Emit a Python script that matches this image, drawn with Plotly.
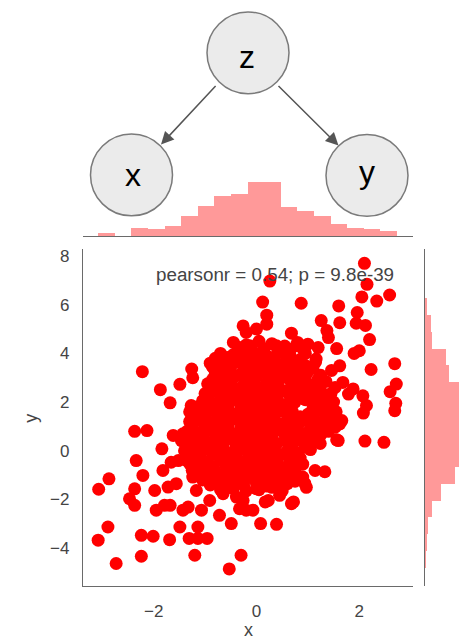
import plotly.graph_objects as go

W, H = 459, 639

# ---------------- data ----------------
# marginal histogram of x (bin start, bin size, counts)
x_hist_start = -3.08
x_hist_size = 0.323
x_hist_counts = [4, 0, 11, 9, 13, 27, 40, 54, 57, 73, 73, 39, 33, 27, 16, 11, 9, 7]

# marginal histogram of y (bottom to top)
y_hist_start = -4.83
y_hist_size = 0.694
y_hist_counts = [2, 3, 4, 10, 21, 40, 58, 72, 78, 72, 58, 33, 28, 10, 8, 3, 0, 0]

# scatter points: sparse points
outer_upper = [
    (-2.22, 3.25), (-1.87, 2.51), (-1.49, 2.73), (-1.68, 1.97), (-1.26, 3.36), (-1.24, 3.0),
    (-0.86, 3.47), (-0.57, 3.83), (-0.36, 4.1), (-0.26, 5.13), (-0.2, 4.86), (-0.13, 4.31),
    (-1.27, 1.86), (-0.84, 3.42),
    (0.26, 6.97), (2.1, 7.7), (2.15, 6.84), (2.05, 6.32), (2.34, 6.15), (2.59, 6.4),
    (0.12, 6.11), (0.87, 6.06), (1.6, 5.95), (1.62, 5.26), (1.96, 5.68), (1.94, 5.24),
    (2.12, 5.15), (2.2, 4.57), (0.2, 5.57), (0.2, 5.2), (0.68, 4.83), (1.26, 5.35),
    (1.37, 4.94), (1.56, 4.2), (1.9, 4.0), (2.0, 4.11), (2.69, 3.58), (2.23, 3.34),
    (2.72, 2.74), (2.6, 2.43), (2.71, 1.95), (1.0, 4.38), (0.0, 5.0), (0.39, 4.31),
    (0.77, 4.31), (1.16, 3.77), (1.62, 3.49), (1.68, 2.81), (1.88, 2.54), (2.07, 2.26),
    (2.14, 1.86), (1.4, 4.65), (1.46, 3.3), (1.53, 2.6), (1.79, 2.33), (1.2, 4.24),
    (2.08, 1.55), (2.69, 1.65), (1.66, 1.24), (1.53, 0.97), (1.62, 1.11),
]
outer_lower = [
    (2.11, 0.4), (2.48, 0.35), (1.56, 0.45), (1.24, 0.3), (1.03, 0.49), (1.59, 0.42),
    (1.33, -0.86), (0.97, -1.5), (0.9, -1.08), (0.72, -2.1), (0.39, -3.02), (0.08, -2.99),
    (-0.07, -2.44), (0.17, -2.1), (0.45, -1.83), (-0.3, -4.29), (-0.26, -2.04), (0.0, -1.56),
    (0.58, -0.67), (0.71, -0.53), (1.14, -0.81), (0.94, -1.34), (0.68, -2.17), (0.23, -2.04),
    (-2.37, 0.8), (-2.13, 0.83), (-1.84, 0.08), (-1.62, 0.63), (-1.43, 0.7), (-2.34, -0.4),
    (-2.87, -1.15), (-3.07, -1.58), (-2.21, -1.01), (-2.37, -1.56), (-2.47, -1.97),
    (-2.37, -2.24), (-1.98, -1.63), (-1.82, -0.81), (-1.66, -0.47), (-1.72, -1.49),
    (-1.56, -1.35), (-1.95, -2.44), (-1.79, -2.24), (-1.68, -2.24), (-1.43, -2.44),
    (-1.33, -2.31), (-1.07, -2.44), (-1.49, -3.13), (-1.14, -3.13), (-0.72, -2.65),
    (-0.49, -2.99), (-0.33, -2.38), (-2.24, -3.47), (-2.01, -3.51), (-1.69, -3.65),
    (-1.31, -3.6), (-1.14, -3.6), (-0.96, -3.6), (-2.89, -3.13), (-3.08, -3.67),
    (-2.73, -4.63), (-2.24, -4.33), (-1.2, -4.29), (-0.53, -4.85), (-1.3, -0.53),
    (-1.24, -1.08), (-1.17, -1.63), (-0.91, -2.04), (-0.65, -1.76), (-0.39, -1.9),
    (-0.2, -2.44), (-1.46, 0.42), (-1.52, -0.4), (-1.3, 0.83), (-1.17, 1.38),
]
# dense core (estimated; individual points are not resolvable in the picture)
core_points_a = [
    (-0.45, 4.45), (-0.2, 4.35), (0.05, 4.5), (0.3, 4.4), (0.55, 4.3), (0.8, 4.45),
    (-0.7, 4.0), (-0.45, 3.95), (-0.25, 4.1), (0.0, 4.0), (0.2, 3.9), (0.45, 4.05), (0.65, 3.95), (0.95, 4.0),
    (-0.9, 3.6), (-0.65, 3.55), (-0.4, 3.65), (-0.2, 3.5), (0.05, 3.6), (0.25, 3.7), (0.5, 3.55),
    (0.7, 3.6), (0.95, 3.5), (1.15, 3.65),
    (-0.8, 3.15), (-0.6, 3.25), (-0.35, 3.1), (-0.15, 3.2), (0.1, 3.25), (0.3, 3.1),
    (0.55, 3.2), (0.75, 3.15), (1.0, 3.25), (1.25, 3.1),
    (-0.95, 2.75), (-0.7, 2.85), (-0.5, 2.8), (-0.25, 2.7), (-0.05, 2.85), (0.2, 2.8),
    (0.4, 2.75), (0.65, 2.9), (0.85, 2.8), (1.1, 2.7), (1.35, 2.85),
    (-1.0, 2.35), (-0.8, 2.45), (-0.55, 2.4), (-0.35, 2.3), (-0.1, 2.45), (0.1, 2.4),
    (0.35, 2.35), (0.55, 2.45), (0.8, 2.4), (1.0, 2.3), (1.25, 2.45), (1.45, 2.35),
    (-1.05, 2.05), (-0.85, 1.95), (-0.6, 2.0), (-0.4, 2.1), (-0.15, 1.95), (0.05, 2.0),
    (0.3, 2.05), (0.5, 1.9), (0.75, 2.0), (0.95, 2.1), (1.2, 1.95), (1.5, 2.0),
    (-1.3, 1.6), (-1.1, 1.55), (-0.9, 1.65), (-0.65, 1.6), (-0.45, 1.5), (-0.2, 1.65), (0.0, 1.6),
    (0.25, 1.55), (0.45, 1.65), (0.7, 1.6), (1.0, 1.5), (1.25, 1.65), (1.55, 1.6),
    (-1.3, 1.2), (-1.1, 1.25), (-0.85, 1.15), (-0.65, 1.2), (-0.4, 1.3), (-0.2, 1.15), (0.05, 1.2),
    (0.25, 1.25), (0.5, 1.1), (0.7, 1.2), (0.95, 1.25), (1.2, 1.15), (1.45, 1.2),
    (-1.35, 0.8), (-1.15, 0.75), (-0.9, 0.85), (-0.7, 0.8), (-0.45, 0.7), (-0.25, 0.85), (0.0, 0.8),
    (0.2, 0.75), (0.45, 0.85), (0.65, 0.8), (0.9, 0.7), (1.15, 0.85), (1.4, 0.8),
    (-1.4, 0.4), (-1.2, 0.45), (-0.95, 0.35), (-0.75, 0.4), (-0.5, 0.5), (-0.3, 0.35), (-0.05, 0.4),
    (0.15, 0.45), (0.4, 0.3), (0.6, 0.4), (0.85, 0.45), (1.1, 0.35),
    (-1.4, 0.0), (-1.2, -0.05), (-1.0, 0.05), (-0.75, 0.0), (-0.55, -0.1), (-0.3, 0.05), (-0.1, 0.0),
    (0.15, -0.05), (0.35, 0.05), (0.6, 0.0), (0.8, -0.1), (1.05, 0.05),
    (-1.35, -0.4), (-1.15, -0.35), (-0.95, -0.45), (-0.7, -0.4), (-0.5, -0.3), (-0.25, -0.45),
    (-0.05, -0.4), (0.2, -0.35), (0.4, -0.45), (0.65, -0.4), (0.85, -0.3),
    (-1.25, -0.8), (-1.0, -0.75), (-0.8, -0.85), (-0.55, -0.8), (-0.35, -0.7), (-0.1, -0.85),
    (0.1, -0.8), (0.35, -0.75), (0.55, -0.85), (0.75, -0.8),
    (-1.05, -1.2), (-0.8, -1.15), (-0.6, -1.25), (-0.35, -1.2), (-0.15, -1.1), (0.1, -1.25),
    (0.3, -1.2), (0.5, -1.15), (0.75, -1.25),
    (-0.7, -1.6), (-0.45, -1.55), (-0.2, -1.65), (0.05, -1.6), (0.3, -1.5), (0.5, -1.65),
]
core_points_b = [
    (-0.35, 4.25), (-0.1, 4.15), (0.15, 4.2), (0.4, 4.25), (0.65, 4.15), (0.9, 4.2),
    (-0.8, 3.8), (-0.55, 3.75), (-0.3, 3.85), (-0.1, 3.8), (0.15, 3.75), (0.35, 3.85), (0.6, 3.8), (0.85, 3.75),
    (-0.7, 3.35), (-0.5, 3.45), (-0.25, 3.4), (-0.05, 3.35), (0.2, 3.45), (0.4, 3.4),
    (0.65, 3.35), (0.85, 3.45), (1.1, 3.4),
    (-0.85, 2.95), (-0.65, 3.05), (-0.45, 3.0), (-0.2, 2.95), (0.0, 3.05), (0.25, 3.0),
    (0.45, 2.95), (0.7, 3.05), (0.95, 3.0), (1.2, 2.95),
    (-0.9, 2.55), (-0.65, 2.65), (-0.45, 2.6), (-0.2, 2.55), (0.0, 2.65), (0.25, 2.6),
    (0.45, 2.55), (0.7, 2.65), (0.9, 2.6), (1.15, 2.55),
    (-0.95, 2.15), (-0.7, 2.25), (-0.5, 2.2), (-0.25, 2.15), (-0.05, 2.25), (0.2, 2.2),
    (0.4, 2.15), (0.65, 2.25), (0.85, 2.2), (1.1, 2.15), (1.35, 2.2),
    (-1.2, 1.8), (-1.0, 1.75), (-0.75, 1.85), (-0.55, 1.8), (-0.3, 1.75), (-0.1, 1.85), (0.15, 1.8),
    (0.35, 1.75), (0.6, 1.85), (1.1, 1.75), (1.4, 1.8),
    (-1.2, 1.4), (-1.0, 1.35), (-0.75, 1.45), (-0.55, 1.4), (-0.3, 1.35), (-0.1, 1.45), (0.15, 1.4),
    (0.35, 1.35), (0.6, 1.45), (0.85, 1.4), (1.1, 1.35), (1.35, 1.45),
    (-1.25, 1.0), (-1.0, 0.95), (-0.75, 1.05), (-0.55, 1.0), (-0.3, 0.95), (-0.1, 1.05), (0.15, 1.0),
    (0.35, 0.95), (0.6, 1.05), (0.8, 1.0), (1.05, 0.95), (1.3, 1.05),
    (-1.25, 0.6), (-1.05, 0.55), (-0.8, 0.65), (-0.6, 0.6), (-0.35, 0.55), (-0.15, 0.65), (0.1, 0.6),
    (0.3, 0.55), (0.55, 0.65), (0.75, 0.6), (1.0, 0.55), (1.25, 0.65),
    (-1.3, 0.2), (-1.1, 0.15), (-0.85, 0.25), (-0.65, 0.2), (-0.4, 0.15), (-0.2, 0.25), (0.05, 0.2),
    (0.25, 0.15), (0.7, 0.2), (0.95, 0.15),
    (-1.3, -0.2), (-1.1, -0.25), (-0.85, -0.15), (-0.6, -0.2), (-0.4, -0.25), (-0.15, -0.15),
    (0.05, -0.2), (0.3, -0.25), (0.5, -0.15), (0.75, -0.2),
    (-1.25, -0.6), (-1.05, -0.55), (-0.85, -0.65), (-0.6, -0.6), (-0.4, -0.55), (-0.2, -0.65),
    (0.0, -0.6), (0.25, -0.55), (0.45, -0.65), (0.7, -0.6), (0.9, -0.55),
    (-1.15, -1.0), (-0.9, -0.95), (-0.7, -1.05), (-0.45, -1.0), (-0.25, -0.95), (0.0, -1.05),
    (0.2, -1.0), (0.45, -0.95), (0.65, -1.05),
    (-0.9, -1.4), (-0.65, -1.35), (-0.45, -1.45), (-0.25, -1.4), (0.0, -1.35), (0.2, -1.45),
    (0.4, -1.4), (0.6, -1.35),
]

annotation_text = "pearsonr = 0.54; p = 9.8e-39"
x_ticks = [-2, 0, 2]
y_ticks = [-4, -2, 0, 2, 4, 6, 8]

# DAG nodes: label, centre (px), text centre (px)
dag_nodes = [("z", (248, 51), (247, 55)), ("x", (131.5, 173.5), (133, 174)), ("y", (367, 174), (367, 171))]
dag_edges = [((217, 83), (161, 143)), ((277, 83), (338.5, 144))]
node_r = 41

# ---------------- figure ----------------
FONT = "Liberation Sans, Arial, sans-serif"
TXT = "#444444"
LINE = "#6a6a6a"
HIST = "rgba(255,0,0,0.4)"

pts = outer_upper + outer_lower + core_points_a + core_points_b
sx = [p[0] for p in pts]
sy = [p[1] for p in pts]

fig = go.Figure()
fig.add_trace(go.Scatter(x=sx, y=sy, mode="markers",
                         marker=dict(color="red", size=13, line=dict(width=0)),
                         xaxis="x", yaxis="y", showlegend=False, hoverinfo="skip"))

xc = [x_hist_start + (i + 0.5) * x_hist_size for i in range(len(x_hist_counts))]
fig.add_trace(go.Bar(x=xc, y=x_hist_counts, width=x_hist_size, marker=dict(color=HIST, line=dict(width=0)),
                     xaxis="x2", yaxis="y2", showlegend=False, hoverinfo="skip"))
yc = [y_hist_start + (i + 0.5) * y_hist_size for i in range(len(y_hist_counts))]
fig.add_trace(go.Bar(y=yc, x=y_hist_counts, width=y_hist_size, orientation="h",
                     marker=dict(color=HIST, line=dict(width=0)),
                     xaxis="x3", yaxis="y3", showlegend=False, hoverinfo="skip"))

X0, X1 = 83, 413
Y0, Y1 = 248, 586
xr = [-3.375, 3.045]
yr = [-5.56, 8.28]


def fx(p):
    return p / W


def fy(p):
    return 1 - p / H


common_tick = dict(ticks="outside", ticklen=9, tickcolor="rgba(0,0,0,0)",
                   tickfont=dict(family=FONT, size=17, color=TXT),
                   showgrid=False, zeroline=False, showline=True, linecolor=LINE, linewidth=1.3)

fig.update_layout(
    width=W, height=H, margin=dict(l=0, r=0, t=0, b=0),
    paper_bgcolor="white", plot_bgcolor="rgba(0,0,0,0)",
    font=dict(family=FONT, color=TXT),
    xaxis=dict(domain=[fx(X0), fx(X1)], range=xr, anchor="y", tickvals=x_ticks, **common_tick),
    yaxis=dict(domain=[fy(Y1), fy(Y0)], range=yr, anchor="x", tickvals=y_ticks, **common_tick),
    xaxis2=dict(domain=[fx(X0), fx(X1)], range=xr, anchor="y2", showticklabels=False, ticks="",
                showgrid=False, zeroline=False, showline=True, linecolor=LINE, linewidth=1.3),
    yaxis2=dict(domain=[fy(235), fy(170)], range=[0, 87.8], anchor="x2", visible=False),
    xaxis3=dict(domain=[fx(425), 1.0], range=[0, 45.9], anchor="y3", visible=False),
    yaxis3=dict(domain=[fy(Y1), fy(Y0)], range=yr, anchor="x3", showticklabels=False, ticks="",
                showgrid=False, zeroline=False, showline=True, linecolor=LINE, linewidth=1.3),
    bargap=0,
)

shapes = []
annotations = []
for label, (cx, cy), (tx, ty) in dag_nodes:
    shapes.append(dict(type="circle", xref="paper", yref="paper",
                       x0=fx(cx - node_r), x1=fx(cx + node_r), y0=fy(cy + node_r), y1=fy(cy - node_r),
                       fillcolor="#ebebeb", line=dict(color="#7a7a7a", width=1.5), layer="above"))
    annotations.append(dict(text=label, xref="paper", yref="paper", x=fx(tx), y=fy(ty),
                            xanchor="center", yanchor="middle", showarrow=False,
                            font=dict(family=FONT, size=32, color="black")))
for (tail, tip) in dag_edges:
    annotations.append(dict(text="", xref="paper", yref="paper", x=fx(tip[0]), y=fy(tip[1]),
                            ax=tail[0] - tip[0], ay=tail[1] - tip[1], axref="pixel", ayref="pixel",
                            showarrow=True, arrowhead=2, arrowsize=1.7, arrowwidth=1.5,
                            arrowcolor="#555555"))

annotations.append(dict(text=annotation_text, xref="paper", yref="paper", x=fx(396), y=fy(273),
                        xanchor="right", yanchor="middle", showarrow=False,
                        font=dict(family=FONT, size=18.8, color=TXT)))
annotations.append(dict(text="x", xref="paper", yref="paper", x=fx(248.5), y=fy(630),
                        xanchor="center", yanchor="middle", showarrow=False,
                        font=dict(family=FONT, size=18, color=TXT)))
annotations.append(dict(text="y", xref="paper", yref="paper", x=fx(31), y=fy(418),
                        xanchor="center", yanchor="middle", showarrow=False, textangle=-90,
                        font=dict(family=FONT, size=18, color=TXT)))

fig.update_layout(shapes=shapes, annotations=annotations)
fig.write_html("out.html")
